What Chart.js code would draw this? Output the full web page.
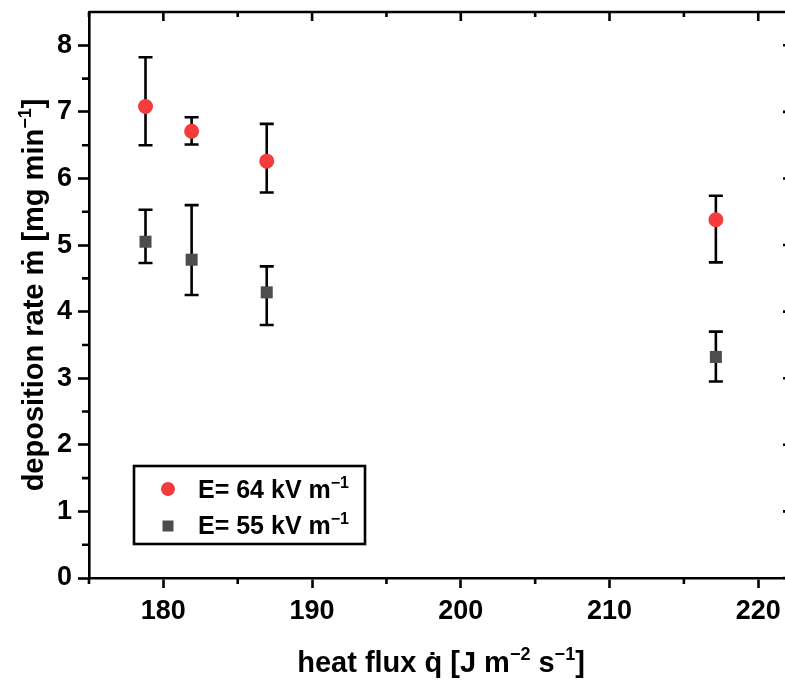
<!DOCTYPE html>
<html>
<head>
<meta charset="utf-8">
<script src="https://cdn.jsdelivr.net/npm/chart.js@4/dist/chart.umd.min.js"></script>
<style>
  html, body { margin: 0; padding: 0; background: #fff; overflow: hidden; }
  #wrap { width: 790px; height: 684px; }
</style>
</head>
<body>
<div id="wrap"><canvas id="depositionChart" width="790" height="684"></canvas></div>
<script>
// heat flux values (x) shared by both series
const heatFlux = [178.8, 181.9, 186.95, 217.15];

// E = 64 kV/m
const rate64 = [7.08, 6.71, 6.26, 5.38];
const rate64Low = [6.50, 6.51, 5.79, 4.74];
const rate64High = [7.82, 6.92, 6.82, 5.74];

// E = 55 kV/m
const rate55 = [5.05, 4.78, 4.29, 3.32];
const rate55Low = [4.73, 4.25, 3.80, 2.95];
const rate55High = [5.53, 5.60, 4.68, 3.70];

const xTicks = [180, 190, 200, 210, 220];
const xMinor = [175, 185, 195, 205, 215];
const yTicks = [0, 1, 2, 3, 4, 5, 6, 7, 8];
const yMinor = [0.5, 1.5, 2.5, 3.5, 4.5, 5.5, 6.5, 7.5];

const FONT = "'Liberation Sans', Arial, sans-serif";

function points(xs, ys, lo, hi) {
    return xs.map((x, i) => ({ x: x, y: ys[i], lo: lo[i], hi: hi[i] }));
}

// draw text with superscript parts, centred on (x, y)
function drawRich(ctx, parts, x, y, size) {
    const supSize = Math.round(size * 0.62);
    let total = 0;
    parts.forEach(p => {
        ctx.font = "bold " + (p.sup ? supSize : size) + "px " + FONT;
        p.w = ctx.measureText(p.t).width;
        total += p.w;
    });
    let cx = x - total / 2;
    ctx.textAlign = "left";
    ctx.textBaseline = "alphabetic";
    parts.forEach(p => {
        ctx.font = "bold " + (p.sup ? supSize : size) + "px " + FONT;
        ctx.fillText(p.t, cx, p.sup ? y - size * 0.4 : y);
        cx += p.w;
    });
}

const errorBars = {
    id: "errorBars",
    beforeDatasetsDraw(chart) {
        const ctx = chart.ctx;
        const xs = chart.scales.x, ys = chart.scales.y;
        ctx.save();
        ctx.strokeStyle = "#000";
        ctx.lineWidth = 2.6;
        chart.data.datasets.forEach(ds => {
            ds.data.forEach(p => {
                const px = xs.getPixelForValue(p.x);
                const yl = ys.getPixelForValue(p.lo);
                const yh = ys.getPixelForValue(p.hi);
                ctx.beginPath();
                ctx.moveTo(px, yl); ctx.lineTo(px, yh);
                ctx.moveTo(px - 7, yl); ctx.lineTo(px + 7, yl);
                ctx.moveTo(px - 7, yh); ctx.lineTo(px + 7, yh);
                ctx.stroke();
            });
        });
        ctx.restore();
    }
};

const frame = {
    id: "frame",
    afterDraw(chart) {
        const ctx = chart.ctx;
        const a = chart.chartArea;
        const xs = chart.scales.x, ys = chart.scales.y;
        ctx.save();
        ctx.strokeStyle = "#000";
        ctx.lineWidth = 2.6;
        ctx.beginPath();
        // top and right border
        ctx.moveTo(a.left, a.top); ctx.lineTo(a.right, a.top); ctx.lineTo(a.right, a.bottom);
        // top ticks (inward)
        xTicks.forEach(v => { const p = xs.getPixelForValue(v); ctx.moveTo(p, a.top); ctx.lineTo(p, a.top + 9); });
        xMinor.forEach(v => { const p = xs.getPixelForValue(v); ctx.moveTo(p, a.top); ctx.lineTo(p, a.top + 5); });
        // right ticks (inward)
        yTicks.forEach(v => { const p = ys.getPixelForValue(v); ctx.moveTo(a.right, p); ctx.lineTo(a.right - 5, p); });
        // minor ticks outside, left and bottom
        yMinor.forEach(v => { const p = ys.getPixelForValue(v); ctx.moveTo(a.left, p); ctx.lineTo(a.left - 7, p); });
        xMinor.forEach(v => { const p = xs.getPixelForValue(v); ctx.moveTo(p, a.bottom); ctx.lineTo(p, a.bottom + 6); });
        ctx.stroke();

        // axis titles
        ctx.fillStyle = "#000";
        drawRich(ctx, [
            { t: "heat flux q\u0307 [J m" }, { t: "\u22122", sup: true },
            { t: " s" }, { t: "\u22121", sup: true }, { t: "]" }
        ], 441, 672, 29);

        ctx.save();
        ctx.translate(43, 295);
        ctx.rotate(-Math.PI / 2);
        drawRich(ctx, [
            { t: "deposition rate \u1E41 [mg min" }, { t: "\u22121", sup: true }, { t: "]" }
        ], 0, 0, 29);
        ctx.restore();

        // legend
        ctx.lineWidth = 2.6;
        ctx.strokeRect(134, 466, 231, 78);
        ctx.fillStyle = chart.data.datasets[0].backgroundColor;
        ctx.beginPath(); ctx.arc(168, 489, 7, 0, Math.PI * 2); ctx.fill();
        ctx.fillStyle = chart.data.datasets[1].backgroundColor;
        ctx.fillRect(162.5, 520.5, 11, 11);
        ctx.fillStyle = "#000";
        chart.data.datasets.forEach((ds, i) => {
            const parts = [{ t: ds.label }, { t: "\u22121", sup: true }];
            ctx.font = "bold 25px " + FONT;
            let w = ctx.measureText(ds.label).width;
            ctx.font = "bold 16px " + FONT;
            w += ctx.measureText("\u22121").width;
            drawRich(ctx, parts, 198 + w / 2, i === 0 ? 498 : 534, 25);
        });
        ctx.restore();
    }
};

const ctx = document.getElementById("depositionChart").getContext("2d");
const depositionChart = new Chart(ctx, {
    type: "scatter",
    data: {
        datasets: [
            {
                label: "E= 64 kV m",
                data: points(heatFlux, rate64, rate64Low, rate64High),
                pointStyle: "circle",
                pointRadius: 7.5,
                pointHoverRadius: 7.5,
                borderWidth: 0,
                backgroundColor: "rgb(244,60,60)",
            },
            {
                label: "E= 55 kV m",
                data: points(heatFlux, rate55, rate55Low, rate55High),
                pointStyle: "rect",
                pointRadius: 8.5,
                pointHoverRadius: 8.5,
                borderWidth: 0,
                backgroundColor: "rgb(77,77,77)",
            },
        ],
    },
    options: {
        responsive: false,
        animation: false,
        devicePixelRatio: 1,
        layout: { autoPadding: false, padding: { top: 12, right: 2, left: 0, bottom: 0 } },
        plugins: { legend: { display: false }, tooltip: { enabled: false } },
        scales: {
            x: {
                type: "linear",
                min: 175,
                max: 222,
                afterBuildTicks: s => { s.ticks = xTicks.map(v => ({ value: v })); },
                afterFit: s => { s.height = 106; s.paddingLeft = 0; s.paddingRight = 0; },
                border: { color: "#000", width: 2.6 },
                grid: { drawOnChartArea: false, tickLength: 10, tickWidth: 2.6, tickColor: "#000" },
                ticks: { color: "#000", padding: 7, maxRotation: 0, font: { family: FONT, size: 27, weight: "bold" } },
            },
            y: {
                type: "linear",
                min: 0,
                max: 8.5,
                afterBuildTicks: s => { s.ticks = yTicks.map(v => ({ value: v })); },
                afterFit: s => { s.width = 89; s.paddingTop = 0; s.paddingBottom = 0; },
                border: { color: "#000", width: 2.6 },
                grid: { drawOnChartArea: false, tickLength: 11, tickWidth: 2.6, tickColor: "#000" },
                ticks: { color: "#000", padding: 6, font: { family: FONT, size: 27, weight: "bold" } },
            },
        },
    },
    plugins: [errorBars, frame],
});
</script>
</body>
</html>
